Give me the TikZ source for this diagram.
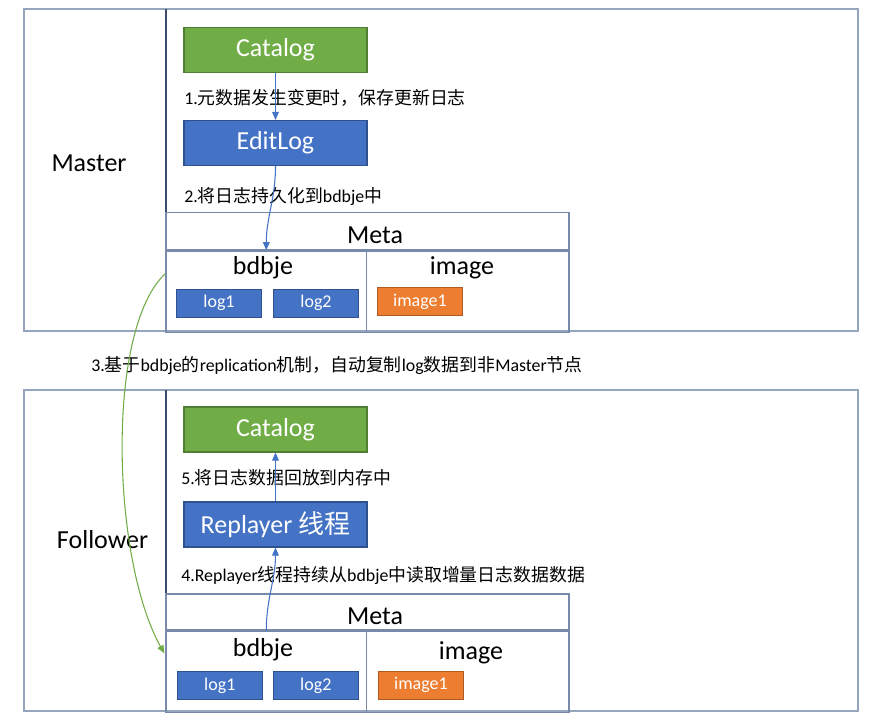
\documentclass[tikz,border=0pt]{standalone}
\usepackage{fontspec}
\setmainfont{Carlito}
\newfontfamily\cjk{Noto Sans CJK SC}
\usetikzlibrary{arrows.meta,positioning,calc}
\newcommand{\zh}[1]{{\cjk #1}}

\definecolor{framegray}{RGB}{150,165,190}
\definecolor{divblue}{RGB}{60,75,105}
\definecolor{metaline}{RGB}{120,138,170}
\definecolor{catgreen}{RGB}{112,173,71}
\definecolor{catgreenb}{RGB}{80,126,50}
\definecolor{logblue}{RGB}{68,114,196}
\definecolor{logblueb}{RGB}{47,82,143}
\definecolor{imgorange}{RGB}{237,125,49}
\definecolor{imgoranged}{RGB}{174,90,33}

\tikzset{
  bigbox/.style={rectangle, minimum width=137.25pt, minimum height=33.75pt,
    text=white, font=\fontsize{19.5}{22}\selectfont, line width=0.8pt},
  catalogbox/.style={bigbox, fill=catgreen, draw=catgreenb},
  blockbox/.style={bigbox, fill=logblue, draw=logblueb},
  logbox/.style={rectangle, minimum width=63.5pt, minimum height=21pt, inner sep=0pt,
    fill=logblue, draw=logblueb, text=white, font=\fontsize{13.5}{16}\selectfont},
  imgbox/.style={logbox, fill=imgorange, draw=imgoranged},
  cell/.style={rectangle, draw=metaline, line width=1pt, inner sep=0pt},
  title/.style={font=\fontsize{19.5}{22}\selectfont},
  steplabel/.style={anchor=west, inner sep=0pt, font=\fontsize{13.4}{15}\selectfont},
  flow/.style={-{Triangle[length=6pt,width=5pt]}, draw=logblue, line width=0.8pt},
  repl/.style={-{Triangle[length=6pt,width=5pt]}, draw=catgreen, line width=0.8pt},
  frame/.style={draw=framegray, line width=1pt},
  divider/.style={draw=divblue, line width=1.2pt}
}

\begin{document}
\begin{tikzpicture}[x=0.75pt, y=-0.75pt]
  \useasboundingbox (0,0) rectangle (878,726);

  % master side
  \draw[frame] (24,9) rectangle (858,331);
  \draw[divider] (166,9) -- (166,331);
  \node[title] (master) at (89,163) {Master};

  \node[catalogbox] (mcat) at (275.5,50) {Catalog};
  \node[blockbox] (medit) at (275.5,143) {EditLog};

  \node[cell, minimum width=302.25pt, minimum height=27.75pt] (mmeta) at (367.5,231) {};
  \node[cell, minimum width=150.45pt, minimum height=61.1pt, anchor=north west] (mbdbje) at (mmeta.south west) {};
  \node[cell, minimum width=151.8pt, minimum height=61.1pt, anchor=north east] (mimage) at (mmeta.south east) {};
  \node[title] (mmetat) at (375,235) {Meta};
  \node[title] (mbdbjet) at (263,268) {bdbje};
  \node[title] (mimaget) at (462,268) {image};
  \node[logbox] (mlog1) at (219,303) {log1};
  \node[logbox] (mlog2) at (316,303) {log2};
  \node[imgbox] (mimg1) at (420,301.5) {image1};

  % follower side
  \draw[frame] (24,390) rectangle (858,711);
  \draw[divider] (166,390) -- (166,711);
  \node[title] (follower) at (102.6,540) {Follower};

  \node[catalogbox] (fcat) at (275.5,429.5) {Catalog};
  \node[blockbox] (freplay) at (275.5,524.5) {Replayer \zh{线程}};

  \node[cell, minimum width=302.25pt, minimum height=27pt] (fmeta) at (367.5,612) {};
  \node[cell, minimum width=150.45pt, minimum height=60.75pt, anchor=north west] (fbdbje) at (fmeta.south west) {};
  \node[cell, minimum width=151.8pt, minimum height=60.75pt, anchor=north east] (fimage) at (fmeta.south east) {};
  \node[title] (fmetat) at (375,616) {Meta};
  \node[title] (fbdbjet) at (263,650) {bdbje};
  \node[title] (fimaget) at (471,653) {image};
  \node[logbox] (flog1) at (219.8,685.3) {log1};
  \node[logbox] (flog2) at (315.8,685.3) {log2};
  \node[imgbox] (fimg1) at (421,685.3) {image1};

  % step labels
  \node[steplabel] (s1) at (184,98) {1.\zh{元数据发生变更时，保存更新日志}};
  \node[steplabel] (s2) at (184,196.7) {2.\zh{将日志持久化到}bdbje\zh{中}};
  \node[steplabel] (s3) at (91,365) {3.\zh{基于}bdbje\zh{的}replication\zh{机制，自动复制}log\zh{数据到非}Master\zh{节点}};
  \node[steplabel] (s5) at (181,478) {5.\zh{将日志数据回放到内存中}};
  \node[steplabel] (s4) at (181,575) {4.Replayer\zh{线程持续从}bdbje\zh{中读取增量日志数据数据}};

  % connectors
  \coordinate (mstart) at ($(mbdbje.west)+(0,-18)$);
  \coordinate (fend) at ($(fbdbje.west)+(-1,-18.5)$);
  \draw[flow] (mcat) -- (medit);
  \draw[flow] (medit.south) to[out=-90,in=90] (mbdbje.north);
  \draw[repl] (mstart) .. controls (105,330) and (112,560) .. (fend);
  \draw[flow] (fbdbje.north) to[out=90,in=-90] (freplay.south);
  \draw[flow] (freplay) -- (fcat);
\end{tikzpicture}
\end{document}
